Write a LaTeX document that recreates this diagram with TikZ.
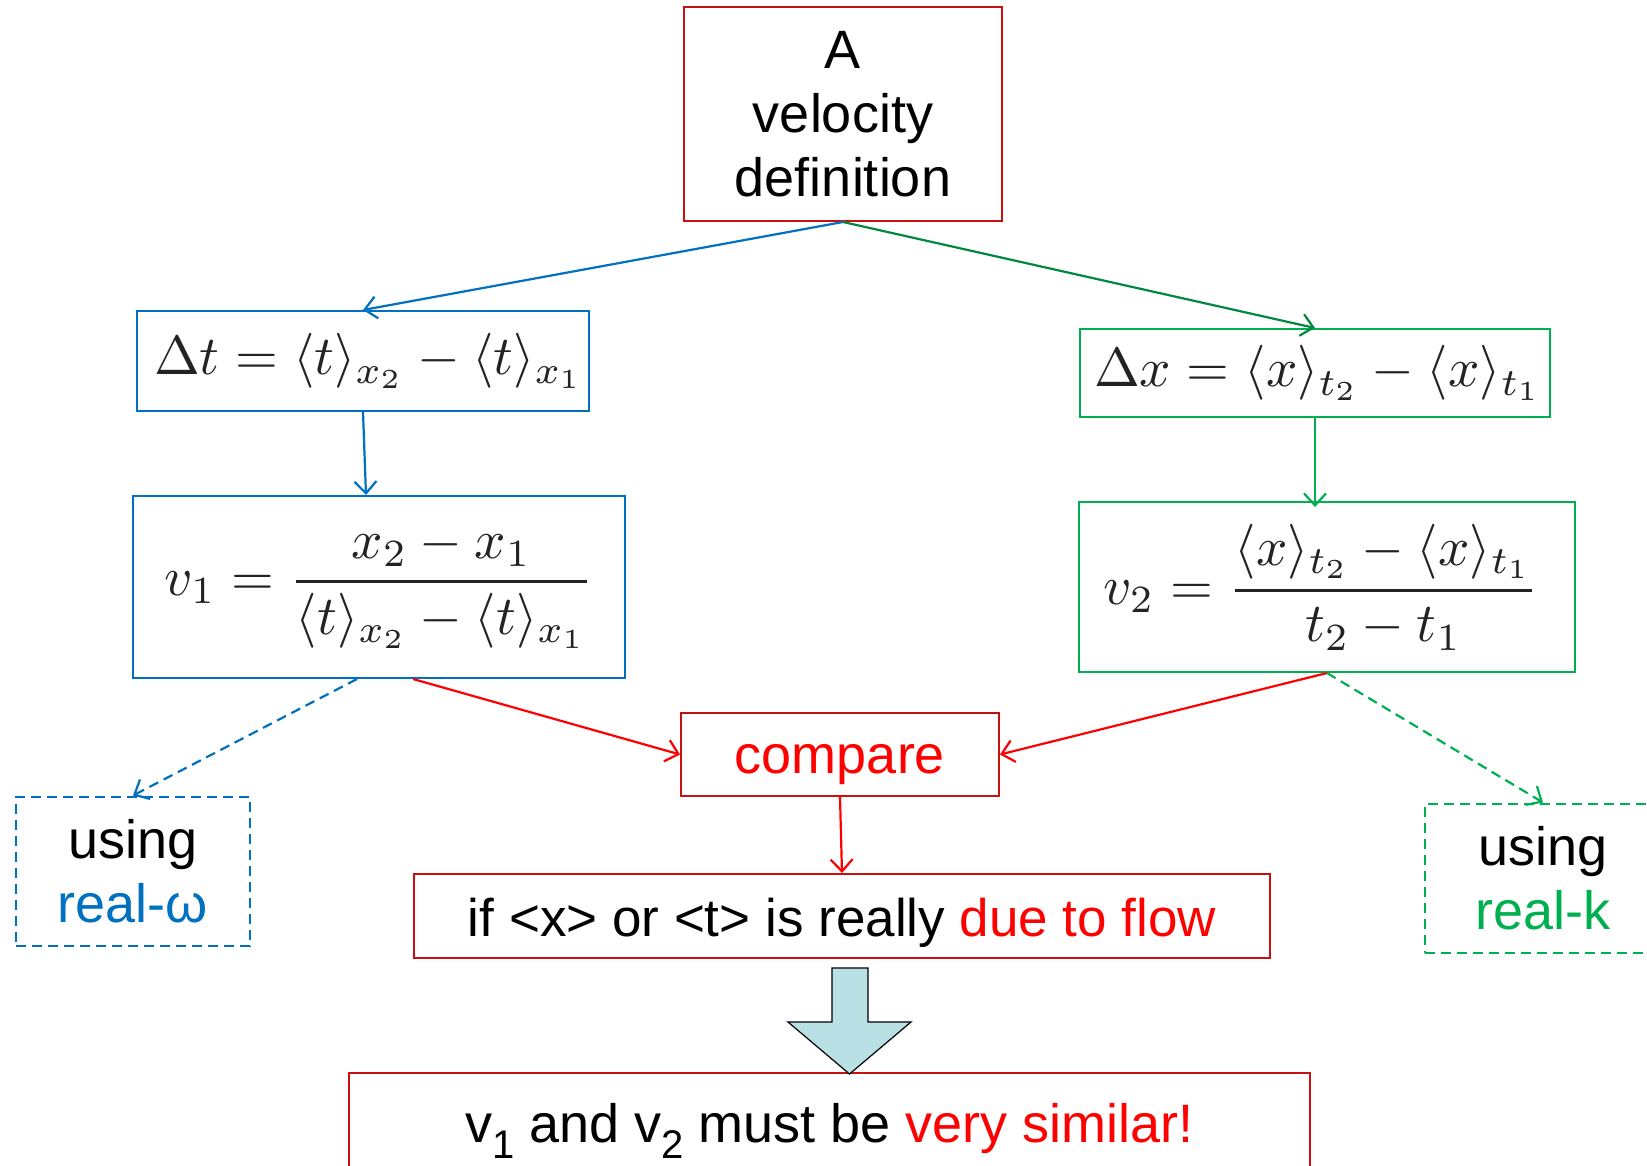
\documentclass[tikz,border=0pt]{standalone}
\usepackage{amsmath}
\usepackage{graphicx}
\usepackage[no-math]{fontspec}
\setmainfont{Liberation Sans}
\usetikzlibrary{arrows.meta,calc}
\definecolor{pblue}{RGB}{0,112,192}
\definecolor{pgreen}{RGB}{0,176,80}
\definecolor{dgreen}{RGB}{0,136,62}
\definecolor{dred}{RGB}{200,16,16}
\definecolor{pred}{RGB}{255,0,0}
\definecolor{aqua}{RGB}{185,224,228}
\definecolor{mathgray}{RGB}{35,35,35}
\newcommand\txtfont{\fontsize{54}{64}\selectfont}
\newcommand\mscale[1]{\scalebox{5.5}{#1}}
\newcommand\lowsub[1]{\raisebox{-16pt}{\fontsize{40}{40}\selectfont #1}}
\tikzset{
  x=1pt, y=-1pt,
  box/.style={draw, line width=2pt, inner sep=0pt, align=center, font=\txtfont},
  mbox/.style={draw, line width=2pt, inner sep=0pt, align=center, text=mathgray},
  conn/.style={line width=2.2pt, -{Straight Barb[length=12pt,width=22pt,line width=2.2pt]}},
  dconn/.style={conn, dash pattern=on 10pt off 6pt},
  dbox/.style={box, dash pattern=on 10pt off 6pt},
}
\begin{document}
\begin{tikzpicture}
\useasboundingbox (0,0) rectangle (1647,1165);
\clip (0,0) rectangle (1647,1165);
\fill[white] (0,0) rectangle (1647,1165);

\node[box, draw=dred, minimum width=318pt, minimum height=214pt] (top) at (843,114) {A\\velocity\\definition};

\node[mbox, draw=pblue, minimum width=452pt, minimum height=100pt] (dt) at (363,361)
  {\hspace*{12pt}\mscale{$\Delta t = \langle t\rangle_{x_2} - \langle t\rangle_{x_1}$}};
\node[mbox, draw=pgreen, minimum width=470pt, minimum height=88pt] (dx) at (1315,373)
  {\hspace*{6pt}\mscale{$\Delta x = \langle x\rangle_{t_2} - \langle x\rangle_{t_1}$}};

\node[mbox, draw=pblue, minimum width=492pt, minimum height=182pt] (v1) at (379,587)
  {\raisebox{3pt}{\mscale{$\displaystyle v_1 = \genfrac{}{}{0.6pt}{0}{x_2 - x_1}{\langle t\rangle_{x_2} - \langle t\rangle_{x_1}}$}}};
\node[mbox, draw=pgreen, minimum width=496pt, minimum height=170pt] (v2) at (1327,587)
  {\raisebox{3pt}{\mscale{$\displaystyle v_2 = \genfrac{}{}{0.6pt}{0}{\langle x\rangle_{t_2} - \langle x\rangle_{t_1}}{t_2 - t_1}$}}\hspace*{12pt}};

\node[box, draw=dred, text=pred, minimum width=318pt, minimum height=83pt,
      text height=48pt, text depth=11pt] (cmp) at (840,754.5) {compare};

\node[dbox, draw=pblue, minimum width=234pt, minimum height=149pt] (usl) at (133,871) {using\\{\color{pblue}real-ω}};
\node[dbox, draw=pgreen, minimum width=236pt, minimum height=149pt] (usr) at (1543,878) {using\\{\color{pgreen}real-k}};

\node[box, draw=dred, minimum width=856pt, minimum height=84pt,
      font=\fontsize{53}{64}\selectfont, text height=52pt, text depth=11pt] (ifb) at (842,916)
  {if <x> or <t> is really {\color{pred}due to flow}};

\node[box, draw=dred, minimum width=961pt, minimum height=115pt] (bot) at (829.5,1130.5)
  {v\lowsub{1} and v\lowsub{2} must be {\color{pred}very similar!}};

% connectors
\draw[conn, pblue] (top.south) -- (dt.north);
\draw[conn, dgreen] (top.south) -- (dx.north);
\draw[conn, pblue] (dt.south) -- ([xshift=3pt]dt.south |- v1.north);
\draw[conn, pgreen] (dx.south) -- ([yshift=-6pt]dx.south |- v2.north);
\draw[conn, pred] ([xshift=34pt]v1.south) -- (cmp.west);
\draw[conn, pred] (v2.south) -- (cmp.east);
\draw[conn, pred] (cmp.south) -- (ifb.north);
\draw[dconn, pblue] ([xshift=-22pt]v1.south) -- (usl.north);
\draw[dconn, pgreen] (v2.south) -- (usr.north);

% big block arrow
\draw[fill=aqua, line width=1.2pt, line join=miter]
  (832,968) -- (868,968) -- (868,1022) -- (911,1022) -- (849.5,1074)
  -- (788,1022) -- (832,1022) -- cycle;
\end{tikzpicture}
\end{document}
